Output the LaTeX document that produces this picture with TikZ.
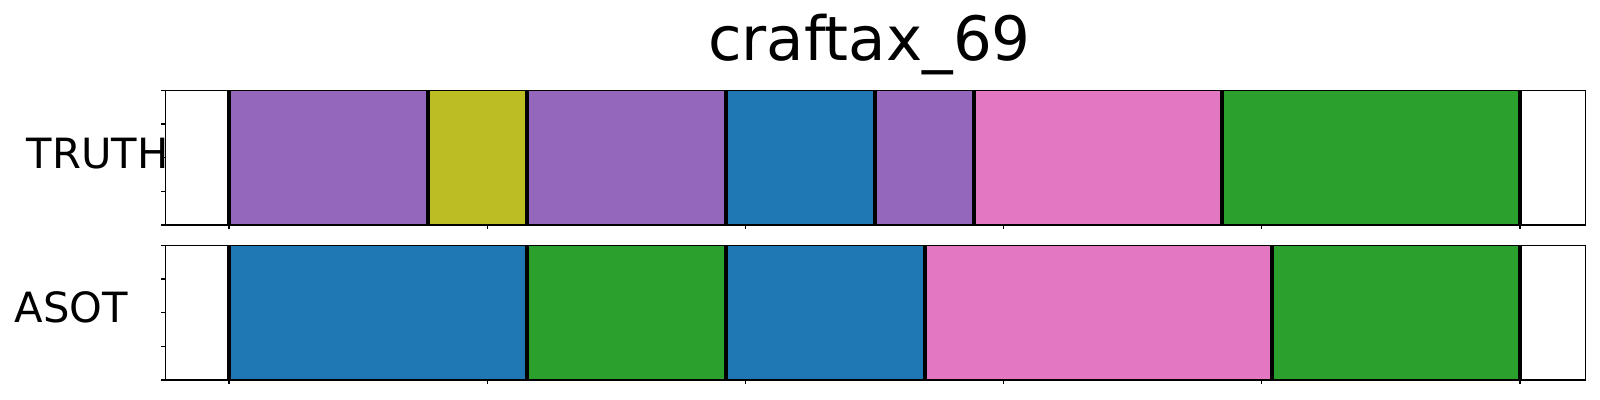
\documentclass[tikz,border=0pt]{standalone}
\usepackage{fontspec}
\setmainfont{DejaVu Sans}
\definecolor{tpurple}{HTML}{9467BD}
\definecolor{tolive}{HTML}{BCBD22}
\definecolor{tblue}{HTML}{1F77B4}
\definecolor{tpink}{HTML}{E377C2}
\definecolor{tgreen}{HTML}{2CA02C}
\begin{document}
\begin{tikzpicture}[x=0.72pt,y=-0.72pt,
  frame/.style={draw=black,line width=0.8pt},
  bound/.style={draw=black,line width=2.9pt},
  tick/.style={draw=black,line width=0.8pt},
  lab/.style={font=\fontsize{30}{36}\selectfont,anchor=base,inner sep=0pt},
  ttl/.style={font=\fontsize{44}{52}\selectfont,anchor=base,inner sep=0pt}]
\useasboundingbox (0,0) rectangle (1600,400);
% title
\node[ttl] (title) at (869.5,61) {craftax\_69};
% top axes segments
\foreach \a/\b/\c in {229/427.7/tpurple,427.7/527/tolive,527/725.7/tpurple,725.7/875/tblue,875/973.7/tpurple,973.7/1221.7/tpink,1221.7/1520/tgreen}
  \fill[fill=\c] (\a,90.3) rectangle (\b,225);
\foreach \x in {229,427.7,527,725.7,875,973.7,1221.7,1520}
  \draw[bound] (\x,90.3) -- (\x,225);
% bottom axes segments
\foreach \a/\b/\c in {229/527/tblue,527/725.7/tgreen,725.7/924.7/tblue,924.7/1271.7/tpink,1271.7/1520/tgreen}
  \fill[fill=\c] (\a,245.3) rectangle (\b,380);
\foreach \x in {229,527,725.7,924.7,1271.7,1520}
  \draw[bound] (\x,245.3) -- (\x,380);
% frames
\draw[frame] (165.3,90.3) rectangle (1585.3,225);
\draw[frame] (165.3,245.3) rectangle (1585.3,380);
% x ticks
\foreach \i in {0,...,5}{
  \draw[tick] (229+258.2*\i,225) -- ++(0,4.5);
  \draw[tick] (229+258.2*\i,380) -- ++(0,4.5);
}
% y ticks
\foreach \i in {0,...,4}{
  \draw[tick] (165.3,90.3+33.675*\i) -- ++(-4.5,0);
  \draw[tick] (165.3,245.3+33.675*\i) -- ++(-4.5,0);
}
% labels
\node[lab] (truth) at (97.5,169) {TRUTH};
\node[lab] (asot) at (71.5,322.7) {ASOT};
\end{tikzpicture}
\end{document}
